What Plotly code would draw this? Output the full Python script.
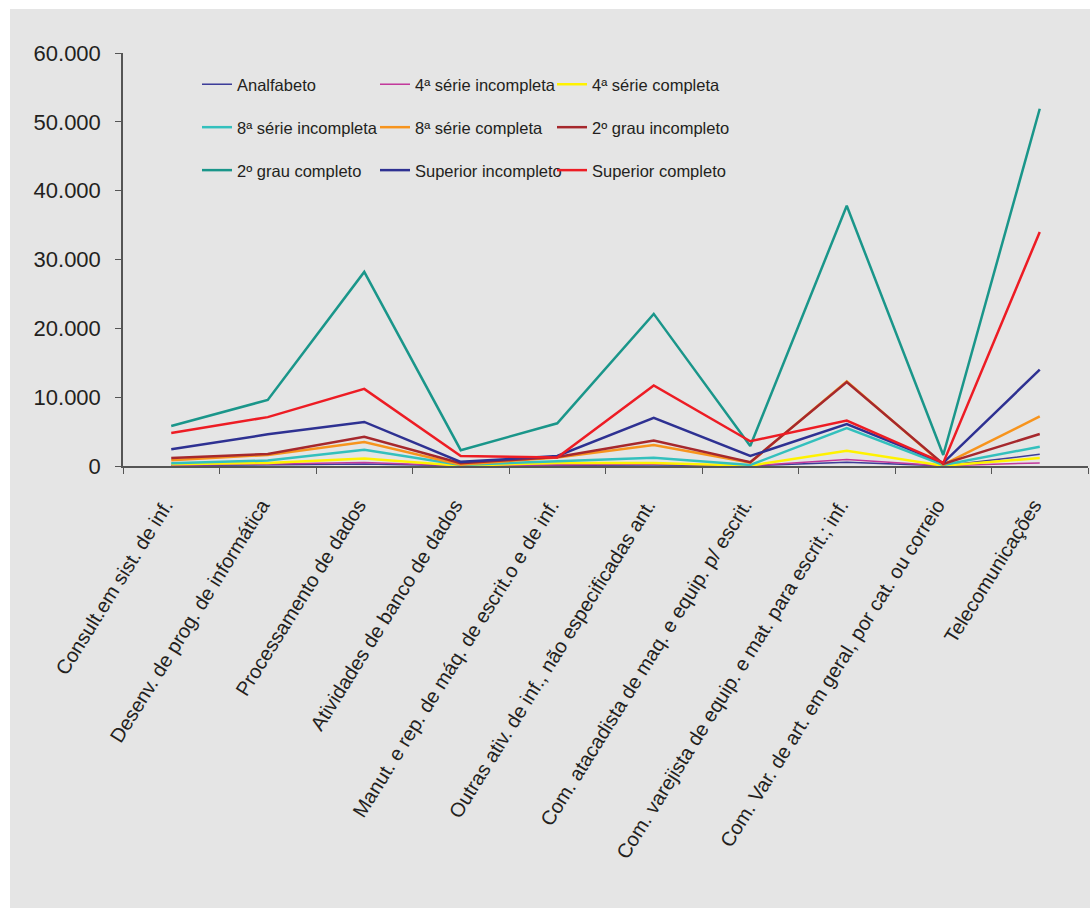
import plotly.graph_objects as go

categories = [
    "Consult.em sist. de inf.",
    "Desenv. de prog. de informática",
    "Processamento de dados",
    "Atividades de banco de dados",
    "Manut. e rep. de máq. de escrit.o e de inf.",
    "Outras ativ. de inf., não especificadas ant.",
    "Com. atacadista de maq. e equip. p/ escrit.",
    "Com. varejista de equip. e mat. para escrit.; inf.",
    "Com. Var. de art. em geral, por cat. ou correio",
    "Telecomunicações",
]

analfabeto = [50, 150, 300, 30, 100, 150, 30, 550, 20, 1700]
serie4_incompleta = [100, 300, 500, 50, 200, 300, 50, 950, 30, 450]
serie4_completa = [250, 450, 1100, 50, 450, 450, 50, 2200, 50, 1150]
serie8_incompleta = [400, 800, 2350, 150, 700, 1200, 150, 5500, 150, 2800]
serie8_completa = [850, 1600, 3500, 200, 1250, 3050, 500, 12300, 200, 7200]
grau2_incompleto = [1150, 1750, 4250, 400, 1300, 3700, 550, 12200, 300, 4650]
grau2_completo = [5800, 9600, 28200, 2300, 6200, 22100, 2900, 37800, 1600, 51900]
superior_incompleto = [2450, 4600, 6400, 600, 1450, 7000, 1450, 6100, 450, 14000]
superior_completo = [4800, 7100, 11200, 1450, 1250, 11700, 3600, 6600, 450, 34000]

y_ticks = [0, 10000, 20000, 30000, 40000, 50000, 60000]

# (name, values, colour, width, legend column)
series = [
    ("Analfabeto", analfabeto, "#3d3d99", 1.5, "legend"),
    ("4ª série incompleta", serie4_incompleta, "#c2399b", 1.5, "legend2"),
    ("4ª série completa", serie4_completa, "#fff200", 2.5, "legend3"),
    ("8ª série incompleta", serie8_incompleta, "#33c0bd", 2.5, "legend"),
    ("8ª série completa", serie8_completa, "#f7941d", 2.5, "legend2"),
    ("2º grau incompleto", grau2_incompleto, "#a6282d", 2.5, "legend3"),
    ("2º grau completo", grau2_completo, "#1a968a", 2.5, "legend"),
    ("Superior incompleto", superior_incompleto, "#2e3192", 2.5, "legend2"),
    ("Superior completo", superior_completo, "#ed1c24", 2.5, "legend3"),
]

BG = "#e5e5e5"
TEXT = "#231f20"
AXIS = "#555555"

fig = go.Figure()
for name, vals, color, width, leg in series:
    fig.add_trace(go.Scatter(
        x=categories, y=vals, name=name, mode="lines",
        line=dict(color=color, width=width),
        legend=leg, legendgroup=name,
    ))

W, H = 1090, 908
L, R, T, B = 123, 2, 53, 442
pw, ph = W - L - R, H - T - B

def px_x(p):
    return (p - L) / pw

def px_y(p):
    return 1 - (p - T) / ph

legend_font = dict(family="Liberation Sans, Arial, sans-serif", size=16.5, color=TEXT)
legend_common = dict(orientation="v", bgcolor="rgba(0,0,0,0)", borderwidth=0,
                     font=legend_font, tracegroupgap=18.5, xanchor="left", yanchor="top",
                     y=px_y(67))

fig.update_layout(
    width=W, height=H,
    margin=dict(l=L, r=R, t=T, b=B, pad=0),
    paper_bgcolor="white",
    plot_bgcolor=BG,
    separators=",.",
    font=dict(family="Liberation Sans, Arial, sans-serif", color=TEXT),
    legend=dict(x=px_x(197), **legend_common),
    legend2=dict(x=px_x(375), **legend_common),
    legend3=dict(x=px_x(552), **legend_common),
    shapes=[dict(type="rect", xref="paper", yref="paper", layer="below",
                 x0=px_x(10), x1=px_x(1092), y0=px_y(910), y1=px_y(9),
                 fillcolor=BG, line=dict(width=0))],
    xaxis=dict(
        type="category", range=[-0.5, 9.5], tickson="boundaries",
        ticks="outside", ticklen=6, tickcolor=AXIS, tickwidth=1.2,
        showline=True, linecolor=AXIS, linewidth=1.5, showgrid=False,
        tickangle=-58, tickfont=dict(size=20, color=TEXT),
        ticklabelstandoff=18, ticklabelshift=-6,
    ),
    yaxis=dict(
        range=[0, 60000], tickvals=y_ticks, tickformat=",.0f",
        ticks="outside", ticklen=6, tickcolor=AXIS, tickwidth=1.2,
        showline=True, linecolor=AXIS, linewidth=1.5, showgrid=False,
        zeroline=False, tickfont=dict(size=22, color=TEXT),
        ticklabelstandoff=10,
    ),
)

fig.write_html("out.html")
